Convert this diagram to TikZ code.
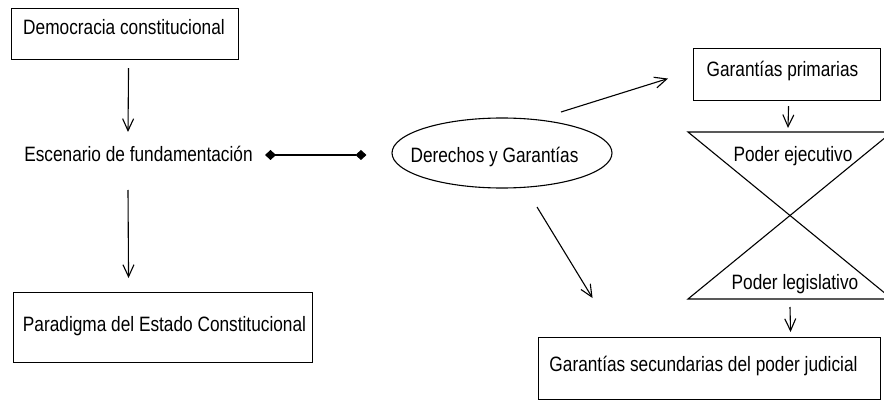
\documentclass[tikz,border=0pt]{standalone}
\usepackage{fontspec}
\setmainfont{Liberation Sans}[FakeStretch=0.83]
\usetikzlibrary{arrows.meta,calc,shapes.geometric}
\begin{document}
\begin{tikzpicture}[x=1pt,y=-1pt,line width=1.1pt,
  box/.style={draw,rectangle,inner sep=0pt,anchor=north west},
  lbl/.style={inner sep=0pt,anchor=base,font=\fontsize{20.8}{24}\selectfont},
  arr/.style={-{Straight Barb[length=12pt,width=11pt]}},
  dia/.style={{Diamond[length=11pt,width=10pt]}-{Diamond[length=11pt,width=10pt]}}]
\useasboundingbox (0,0) rectangle (884,401);
\clip (0,0) rectangle (884,401);

% left column
\node[box,minimum width=227pt,minimum height=51pt] (demo) at (11,8) {};
\node[lbl] (demot) at (124,35) {Democracia constitucional};
\node[lbl] (esc) at (138.5,162) {Escenario de fundamentación};
\node[box,minimum width=299pt,minimum height=70pt] (para) at (13,292) {};
\node[lbl] (parat) at (164.5,331.5) {Paradigma del Estado Constitucional};

% centre
\node[draw,ellipse,inner sep=0pt,minimum width=220pt,minimum height=70pt] (der) at (502,153) {};
\node[lbl] (dert) at (494.5,162.5) {Derechos y Garantías};

% right column
\node[box,minimum width=187pt,minimum height=52pt] (prim) at (693,48) {};
\node[lbl] (primt) at (782.5,77) {Garantías primarias};
\coordinate (hgtl) at (688,132);
\coordinate (hgtr) at (892,132);
\coordinate (hgbl) at (688,299);
\coordinate (hgbr) at (892,299);
\coordinate (hgtop) at (790,132);
\coordinate (hgbot) at (790,299);
\draw (hgtl) -- (hgtr) -- (hgbl) -- (hgbr) -- cycle;
\node[lbl] (eje) at (793,161) {Poder ejecutivo};
\node[lbl] (leg) at (795,289) {Poder legislativo};
\node[box,minimum width=342pt,minimum height=62pt] (sec) at (538,337) {};
\node[lbl] (sect) at (703.5,371.5) {Garantías secundarias del poder judicial};

% connectors
\draw[arr] ($(demo.south)+(3.5,8)$) -- ($(esc.base)+(-10.5,-30)$);
\draw[arr] ($(esc.base)+(-10.5,28)$) -- ($(para.north)+(-34.5,-14)$);
\draw[dia] ($(esc.base)+(126.5,-7)$) -- ($(der.west)+(-25,2)$);
\draw[arr] ($(der.center)+(59,-41)$) -- ($(prim.west)+(-25,4)$);
\draw[arr] ($(der.center)+(35,54)$) -- ($(sec.north)+(-117,-39)$);
\draw[arr] ($(prim.south)+(1.5,5)$) -- ($(hgtop)+(-2,-4)$);
\draw[arr] ($(hgbot)+(0,8)$) -- ($(sec.north)+(81,-5)$);
\end{tikzpicture}
\end{document}
